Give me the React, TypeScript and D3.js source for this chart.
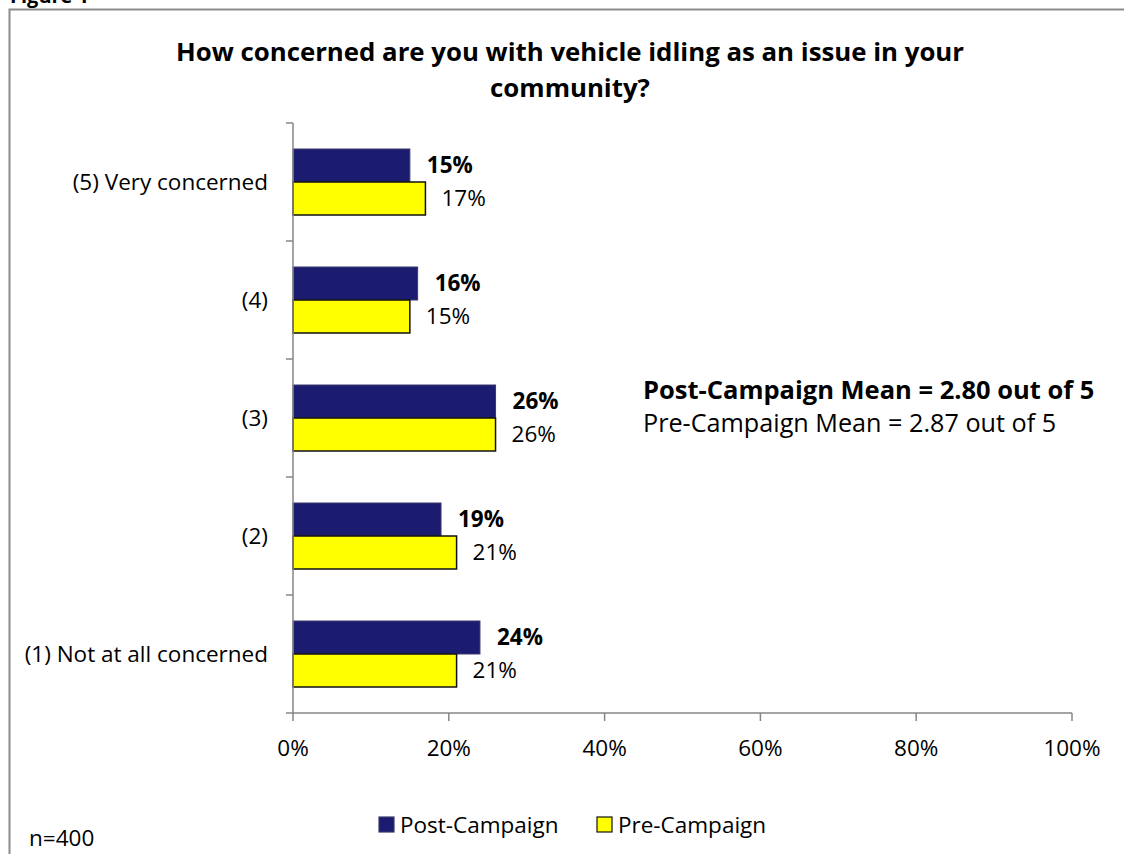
import React from "react";
import * as d3 from "d3";

const categories = ["(5) Very concerned", "(4)", "(3)", "(2)", "(1) Not at all concerned"];
const postValues = [15, 16, 26, 19, 24];
const preValues = [17, 15, 26, 21, 21];
const xTicks = [0, 20, 40, 60, 80, 100];
const seriesNames = ["Post-Campaign", "Pre-Campaign"];
const seriesColors = ["#1b1b6f", "#ffff00"];
const titleLines = ["How concerned are you with vehicle idling as an issue in your", "community?"];
const meanLines = ["Post-Campaign Mean = 2.80 out of 5", "Pre-Campaign Mean = 2.87 out of 5"];

const W = 1124;
const H = 854;
const FONT = "'Open Sans', sans-serif";

export default function App() {
  const left = 293;
  const right = 1072;
  const top = 123;
  const bottom = 713;
  const x = d3.scaleLinear().domain([0, 100]).range([left, right]);
  const y = d3.scaleBand<string>().domain(categories).range([top, bottom]).paddingInner(0).paddingOuter(0);
  const bw = y.bandwidth();
  const barH = 33;
  const inner = d3.scaleBand<string>().domain(seriesNames).range([0, barH * 2]);
  const axisColor = "#868686";
  const fs = 22.5;

  const series = [postValues, preValues];

  return (
    <svg width={W} height={H} style={{ position: "absolute", left: 0, top: 0, background: "#fff" }} fontFamily={FONT}>
      <text x={10} y={3} fontSize={20} fontWeight="bold" fill="#000">Figure 1</text>
      <rect x={9.5} y={9.5} width={W + 10} height={H + 10} fill="none" stroke="#8c8c8c" strokeWidth={2} />

      {titleLines.map((t, i) => (
        <text key={i} x={570} y={52 + i * 36} dy="0.35em" textAnchor="middle" fontSize={25.8} fontWeight="bold" fill="#000">{t}</text>
      ))}

      {/* bars */}
      {categories.map((c, ci) => {
        const y0 = (y(c) as number) + (bw - barH * 2) / 2;
        return (
          <g key={c}>
            {series.map((vals, si) => {
              const yy = y0 + (inner(seriesNames[si]) as number);
              return (
                <g key={si}>
                  <rect
                    x={x(0)}
                    y={yy}
                    width={x(vals[ci]) - x(0)}
                    height={inner.bandwidth()}
                    fill={seriesColors[si]}
                    stroke={si === 0 ? "#3a3a6a" : "#111"}
                    strokeWidth={si === 0 ? 1 : 1.5}
                  />
                  <text
                    x={x(vals[ci]) + (si === 0 ? 17 : 16)}
                    y={yy + inner.bandwidth() / 2}
                    dy="0.35em"
                    fontSize={fs}
                    fontWeight={si === 0 ? "bold" : "normal"}
                    fill="#000"
                  >
                    {vals[ci]}%
                  </text>
                </g>
              );
            })}
            <text x={268} y={(y(c) as number) + bw / 2} dy="0.35em" textAnchor="end" fontSize={fs} fill="#000">
              {c}
            </text>
          </g>
        );
      })}

      {/* y axis */}
      <line x1={left} x2={left} y1={top} y2={bottom} stroke={axisColor} strokeWidth={1.5} />
      {d3.range(categories.length + 1).map((i) => {
        const yy = top + i * bw;
        return <line key={i} x1={left - 7} x2={left} y1={yy} y2={yy} stroke={axisColor} strokeWidth={1.5} />;
      })}

      {/* x axis */}
      <line x1={left} x2={right} y1={bottom} y2={bottom} stroke={axisColor} strokeWidth={1.5} />
      {xTicks.map((t) => (
        <g key={t}>
          <line x1={x(t)} x2={x(t)} y1={bottom} y2={bottom + 8} stroke={axisColor} strokeWidth={1.5} />
          <text x={x(t)} y={748} dy="0.35em" textAnchor="middle" fontSize={fs} fill="#000">{t}%</text>
        </g>
      ))}

      {/* means */}
      <text x={643} y={390} dy="0.35em" fontSize={25.5} fontWeight="bold" fill="#000">{meanLines[0]}</text>
      <text x={643} y={423} dy="0.35em" fontSize={25.2} fill="#000">{meanLines[1]}</text>

      {/* legend */}
      {seriesNames.map((s, i) => {
        const lx = i === 0 ? 379 : 597;
        return (
          <g key={s}>
            <rect x={lx} y={817} width={15} height={15} fill={seriesColors[i]} stroke={i === 0 ? "#3a3a6a" : "#111"} strokeWidth={1.2} />
            <text x={lx + 21} y={825} dy="0.35em" fontSize={fs} fill="#000">{s}</text>
          </g>
        );
      })}

      <text x={29} y={838} dy="0.35em" fontSize={fs} fill="#000">n=400</text>
    </svg>
  );
}
